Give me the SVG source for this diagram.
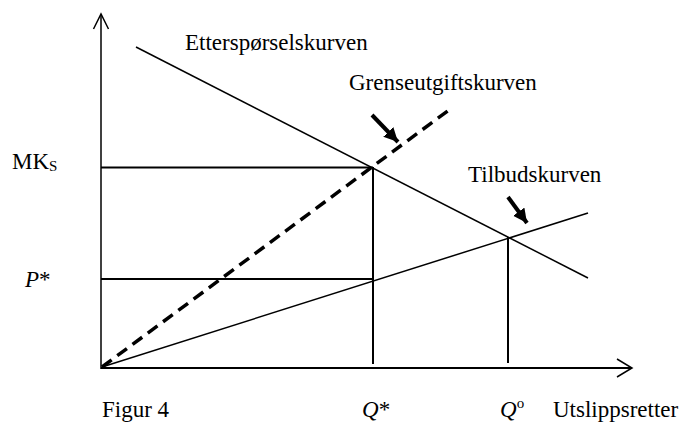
<svg xmlns="http://www.w3.org/2000/svg" width="691" height="422" viewBox="0 0 691 422">
<style>
text{font-family:"Liberation Serif","Times New Roman",serif;font-size:23px;fill:#000}
.it{font-style:italic}
.ln{stroke:#000;fill:none;stroke-linecap:butt}
.thin{stroke-width:1.5}
.med{stroke-width:2}
.dash{stroke-width:3.5;stroke-dasharray:12 7}
.ptr{stroke-width:4;marker-end:url(#ah)}
</style>
<defs>
<marker id="ah" markerUnits="userSpaceOnUse" markerWidth="20" markerHeight="20" refX="14" refY="7" orient="auto">
<path d="M0,0 L14,7 L0,14 Z" fill="#000"/>
</marker>
</defs>
<rect width="691" height="422" fill="#fff"/>
<g id="axes">
<line class="ln thin" x1="101" y1="15" x2="101" y2="369"/>
<polyline class="ln thin" points="93.5,29 101,14 108.5,29"/>
<line class="ln med" x1="101" y1="368" x2="632" y2="368"/>
<polyline class="ln thin" points="617,359 632,368 617,377"/>
</g>
<g id="connectors">
<line class="ln thin" x1="136" y1="47" x2="588" y2="278"/>
<line class="ln thin" x1="102" y1="367" x2="588" y2="213"/>
<line class="ln dash" x1="102" y1="367" x2="453" y2="107"/>
<line class="ln med" x1="101" y1="167.5" x2="373" y2="167.5"/>
<line class="ln med" x1="373" y1="167" x2="373" y2="364"/>
<line class="ln med" x1="101" y1="279" x2="373" y2="279"/>
<line class="ln med" x1="508" y1="237" x2="508" y2="363"/>
<line class="ln ptr" x1="372" y1="115" x2="398" y2="142"/>
<line class="ln ptr" x1="508" y1="197" x2="527" y2="223"/>
</g>
<g id="label-demand"><text x="185" y="50">Etterspørselskurven</text></g>
<g id="label-mc"><text x="349" y="90">Grenseutgiftskurven</text></g>
<g id="label-supply"><text x="468" y="182">Tilbudskurven</text></g>
<g id="label-mks"><text x="12" y="169">MK<tspan font-size="15" dy="2">S</tspan></text></g>
<g id="label-pstar"><text class="it" x="25" y="287">P<tspan font-style="normal">*</tspan></text></g>
<g id="label-fig"><text x="102" y="417">Figur 4</text></g>
<g id="label-qstar"><text class="it" x="362" y="417">Q<tspan font-style="normal">*</tspan></text></g>
<g id="label-qo"><text class="it" x="500" y="417">Q<tspan font-style="normal" font-size="15" dy="-9">o</tspan></text></g>
<g id="label-x"><text x="553" y="417">Utslippsretter</text></g>
</svg>
